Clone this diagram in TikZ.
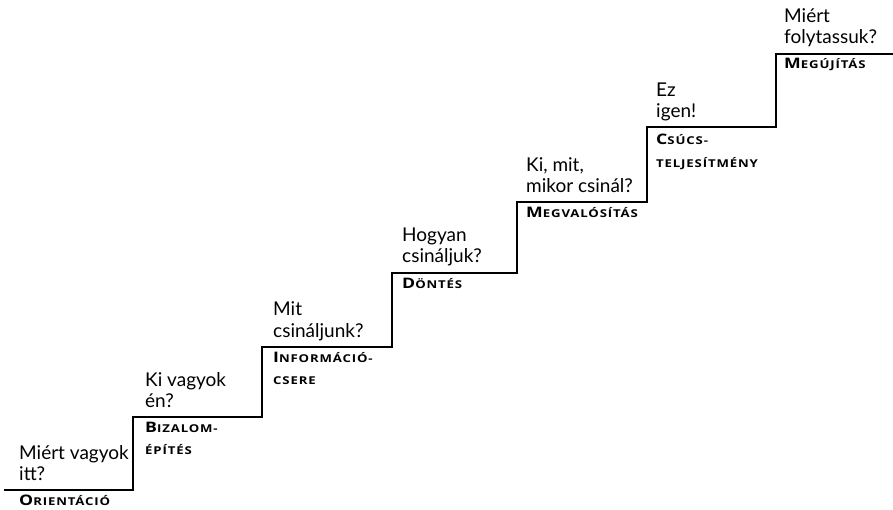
\documentclass[tikz,border=0pt]{standalone}
\usepackage{fontspec}
\setmainfont{Lato}
\newfontfamily\lblfont[FakeStretch=1.22,LetterSpace=8]{Open Sans Bold}
\newcommand\bigsc[1]{{\fontsize{14.5}{14.5}\selectfont #1}}
\newcommand\smsc[1]{{\fontsize{10.8}{10.8}\selectfont #1}}
\tikzset{
  stair/.style={line width=2pt, line cap=rect, line join=miter},
  q/.style={anchor=base west, inner sep=0pt, font=\fontsize{19}{21}\selectfont},
  lab/.style={anchor=base west, inner sep=0pt, font=\lblfont}
}
\begin{document}
\begin{tikzpicture}[x=1pt,y=-1pt]
\useasboundingbox (0,0) rectangle (893,510);
% staircase
\draw[stair] (5,490) -- (133,490) -- (133,417) -- (262,417) -- (262,347)
  -- (392,347) -- (392,273) -- (517,273) -- (517,202.5) -- (647,202.5)
  -- (647,127.5) -- (776,127.5) -- (776,54) -- (893,54);
% step 1
\node[q] (q1a) at (19,459) {Miért vagyok};
\node[q] (q1b) at (19,480) {itt?};
\node[lab] (l1a) at (19,505) {\bigsc{O}\smsc{RIENTÁCIÓ}};
% step 2
\node[q] (q2a) at (145,386) {Ki vagyok};
\node[q] (q2b) at (145,407) {én?};
\node[lab] (l2a) at (145,432) {\bigsc{B}\smsc{IZALOM-}};
\node[lab] (l2b) at (145,454) {\smsc{ÉPÍTÉS}};
% step 3
\node[q] (q3a) at (273,316) {Mit};
\node[q] (q3b) at (273,337) {csináljunk?};
\node[lab] (l3a) at (273,362) {\bigsc{I}\smsc{NFORMÁCIÓ-}};
\node[lab] (l3b) at (273,384) {\smsc{CSERE}};
% step 4
\node[q] (q4a) at (402,242) {Hogyan};
\node[q] (q4b) at (402,263) {csináljuk?};
\node[lab] (l4a) at (402,288) {\bigsc{D}\smsc{ÖNTÉS}};
% step 5
\node[q] (q5a) at (526,171.5) {Ki, mit,};
\node[q] (q5b) at (526,192.5) {mikor csinál?};
\node[lab] (l5a) at (526,217.5) {\bigsc{M}\smsc{EGVALÓSÍTÁS}};
% step 6
\node[q] (q6a) at (656,96.5) {Ez};
\node[q] (q6b) at (656,117.5) {igen!};
\node[lab] (l6a) at (656,145) {\bigsc{C}\smsc{SÚCS-}};
\node[lab] (l6b) at (656,168) {\smsc{TELJESÍTMÉNY}};
% step 7
\node[q] (q7a) at (784,23) {Miért};
\node[q] (q7b) at (784,44) {folytassuk?};
\node[lab] (l7a) at (784,69) {\bigsc{M}\smsc{EGÚJÍTÁS}};
\end{tikzpicture}
\end{document}
